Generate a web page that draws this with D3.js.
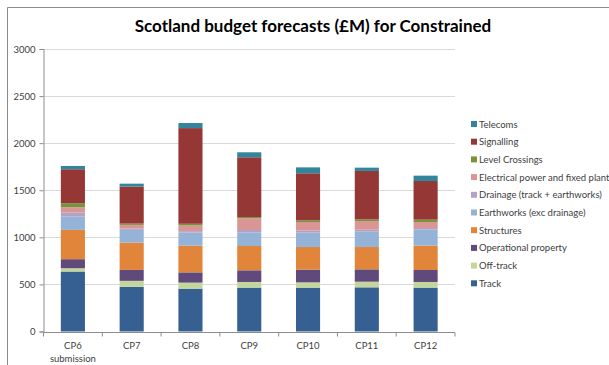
<!DOCTYPE html>
<html>
<head>
<meta charset="utf-8">
<script src="https://cdn.jsdelivr.net/npm/d3@7"></script>
<style>
  html, body { margin: 0; padding: 0; background: #fff; }
  svg { display: block; font-family: Lato, "Liberation Sans", sans-serif; }
</style>
</head>
<body>
<svg id="chart" width="609" height="365"></svg>
<script>
// Control periods shown along the x axis
const categories = ["CP6\nsubmission", "CP7", "CP8", "CP9", "CP10", "CP11", "CP12"];

// Budget by asset type (£M), bottom of stack first
const track        = [637, 474, 455, 466, 466, 469, 466];
const offTrack     = [35, 64, 64, 60, 56, 60, 60];
const operational  = [96, 116, 109, 124, 135, 131, 127];
const structures   = [311, 290, 283, 258, 240, 237, 259];
const earthworks   = [141, 135, 141, 142, 153, 163, 170];
const drainage     = [43, 14, 14, 28, 21, 21, 17];
const electrical   = [56, 39, 60, 124, 92, 92, 64];
const levelCross   = [43, 14, 18, 14, 18, 18, 25];
const signalling   = [361, 393, 1016, 634, 499, 514, 410];
const telecoms     = [35, 31, 54, 53, 63, 35, 57];

const seriesNames = [
  "Track", "Off-track", "Operational property", "Structures",
  "Earthworks (exc drainage)", "Drainage (track + earthworks)",
  "Electrical power and fixed plant", "Level Crossings", "Signalling", "Telecoms"
];
const seriesColors = [
  "#376092", "#c3d69b", "#604a7b", "#e0853a", "#95b3d7",
  "#b3a2c7", "#d99694", "#77933c", "#953735", "#31859c"
];
const yTicks = [0, 500, 1000, 1500, 2000, 2500, 3000];

const seriesValues = [track, offTrack, operational, structures, earthworks,
                      drainage, electrical, levelCross, signalling, telecoms];

const rows = categories.map((c, i) => {
  const r = { category: c };
  seriesNames.forEach((s, j) => { r[s] = seriesValues[j][i]; });
  return r;
});

const svg = d3.select("#chart");
const margin = { left: 43.5, right: 154, top: 49, bottom: 33.5 };
const W = 609, H = 365;
const labelFont = 9.5;

// Chart frame (top and left edges visible)
svg.append("line").attr("x1", 7.5).attr("x2", W).attr("y1", 7.5).attr("y2", 7.5)
  .attr("stroke", "#8c8c8c").attr("stroke-width", 1);
svg.append("line").attr("x1", 7.5).attr("x2", 7.5).attr("y1", 7.5).attr("y2", H)
  .attr("stroke", "#8c8c8c").attr("stroke-width", 1);

// Title
svg.append("text")
  .attr("x", 313).attr("y", 31.5)
  .attr("text-anchor", "middle")
  .attr("font-size", 17).attr("font-weight", "bold")
  .attr("fill", "#000")
  .text("Scotland budget forecasts (£M) for Constrained");

const x = d3.scaleBand()
  .domain(categories)
  .range([margin.left, W - margin.right])
  .paddingInner(0.59).paddingOuter(0.295);

const y = d3.scaleLinear().domain([0, 3000]).range([H - margin.bottom, margin.top]);

// Gridlines
svg.append("g").selectAll("line").data(yTicks.filter(t => t > 0)).join("line")
  .attr("x1", margin.left).attr("x2", W - margin.right)
  .attr("y1", d => Math.round(y(d)) + 0.5).attr("y2", d => Math.round(y(d)) + 0.5)
  .attr("stroke", "#d9d9d9").attr("stroke-width", 1);

// Stacked bars
const stack = d3.stack().keys(seriesNames)(rows);
svg.append("g").selectAll("g").data(stack).join("g")
  .attr("fill", (d, i) => seriesColors[i])
  .selectAll("rect").data(d => d).join("rect")
  .attr("x", d => x(d.data.category))
  .attr("width", x.bandwidth())
  .attr("y", d => y(d[1]))
  .attr("height", d => y(d[0]) - y(d[1]));

// Y axis
const yAxis = d3.axisLeft(y).tickValues(yTicks).tickFormat(d3.format("d"))
  .tickSize(4).tickPadding(4);
const gy = svg.append("g").attr("transform", `translate(${margin.left},0)`).call(yAxis);
gy.select(".domain").attr("stroke", "#8c8c8c");
gy.selectAll(".tick line").attr("stroke", "#8c8c8c");
gy.selectAll(".tick text").attr("fill", "#404040").attr("font-size", labelFont)
  .attr("font-family", "Lato, sans-serif");

// X axis with ticks at category boundaries
const baseY = Math.round(y(0)) + 0.5;
svg.append("line").attr("x1", margin.left).attr("x2", W - margin.right)
  .attr("y1", baseY).attr("y2", baseY).attr("stroke", "#8c8c8c");
const step = x.step();
const bounds = d3.range(categories.length + 1).map(i => margin.left + i * step);
svg.append("g").selectAll("line").data(bounds).join("line")
  .attr("x1", d => d).attr("x2", d => d)
  .attr("y1", baseY).attr("y2", baseY + 4)
  .attr("stroke", "#8c8c8c");

const xl = svg.append("g").selectAll("text").data(categories).join("text")
  .attr("text-anchor", "middle")
  .attr("font-size", labelFont).attr("fill", "#404040")
  .attr("transform", d => `translate(${x(d) + x.bandwidth() / 2},${baseY + 16})`);
xl.selectAll("tspan").data(d => d.split("\n")).join("tspan")
  .attr("x", 0).attr("dy", (d, i) => i === 0 ? 0 : 13.5)
  .text(d => d);

// Legend, top entry is the top of the stack
const legendItems = seriesNames.map((n, i) => ({ name: n, color: seriesColors[i] })).reverse();
const lg = svg.append("g").selectAll("g").data(legendItems).join("g")
  .attr("transform", (d, i) => `translate(471,${124 + i * 17.7})`);
lg.append("rect").attr("x", 0).attr("y", -3).attr("width", 6).attr("height", 6)
  .attr("fill", d => d.color);
lg.append("text").attr("x", 8).attr("y", 3.5)
  .attr("font-size", labelFont).attr("fill", "#404040")
  .text(d => d.name);
</script>
</body>
</html>
